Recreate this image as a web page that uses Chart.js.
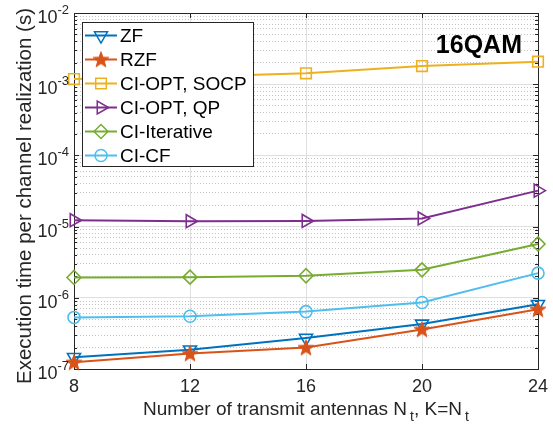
<!DOCTYPE html>
<html>
<head>
<meta charset="utf-8">
<script src="https://cdn.jsdelivr.net/npm/chart.js@4.4.0/dist/chart.umd.min.js"></script>
<style>
  html, body { margin: 0; padding: 0; background: #fff; }
</style>
</head>
<body>
<canvas id="myChart" width="553" height="426"></canvas>
<script>
// data (seconds)
const antennas = [8, 12, 16, 20, 24];
const zf = [1.46e-7, 1.86e-7, 2.72e-7, 4.3e-7, 8.1e-7];
const rzf = [1.24e-7, 1.65e-7, 2.0e-7, 3.6e-7, 6.9e-7];
const socp = [1.18e-3, 1.27e-3, 1.42e-3, 1.80e-3, 2.07e-3];
const qp = [1.23e-5, 1.19e-5, 1.2e-5, 1.3e-5, 3.2e-5];
const iterative = [1.93e-6, 1.95e-6, 2.04e-6, 2.47e-6, 5.7e-6];
const cf = [5.3e-7, 5.5e-7, 6.4e-7, 8.6e-7, 2.22e-6];

const xTicks = [8, 12, 16, 20, 24];
const yExps = [-7, -6, -5, -4, -3, -2];

const FONT = "'Liberation Sans', Arial, Helvetica, sans-serif";
const AXIS_COLOR = "#262626";

function makeStar(color) {
  const c = document.createElement("canvas");
  c.width = 18; c.height = 18;
  const g = c.getContext("2d");
  g.beginPath();
  for (let i = 0; i < 10; i++) {
    const r = i % 2 ? 3.4 : 8.3;
    const a = -Math.PI / 2 + i * Math.PI / 5;
    const px = 9 + r * Math.cos(a), py = 9.6 + r * Math.sin(a);
    if (i === 0) g.moveTo(px, py); else g.lineTo(px, py);
  }
  g.closePath();
  g.fillStyle = color;
  g.fill();
  g.lineWidth = 1;
  g.strokeStyle = color;
  g.stroke();
  return c;
}

const series = [
  { label: "ZF", data: zf, color: "#0072BD", style: "triangle", rot: 180, r: 7.5 },
  { label: "RZF", data: rzf, color: "#D95319", style: makeStar("#D95319"), rot: 0, r: 8 },
  { label: "CI-OPT, SOCP", data: socp, color: "#EDB120", style: "rect", rot: 0, r: 7.5 },
  { label: "CI-OPT, QP", data: qp, color: "#7E2F8E", style: "triangle", rot: 90, r: 7.5 },
  { label: "CI-Iterative", data: iterative, color: "#77AC30", style: "rectRot", rot: 0, r: 7 },
  { label: "CI-CF", data: cf, color: "#4DBEEE", style: "circle", rot: 0, r: 6 }
];

function isMajor(v) {
  const l = Math.log10(v);
  return Math.abs(l - Math.round(l)) < 1e-6;
}

// legend marker, same shape as the points but open
function legendMarker(ctx, s, x, y) {
  ctx.save();
  ctx.strokeStyle = s.color;
  ctx.fillStyle = "rgba(0,0,0,0)";
  ctx.lineWidth = 1.5;
  if (typeof s.style !== "string") {
    ctx.drawImage(s.style, x - s.style.width / 2, y - s.style.height / 2);
  } else {
    Chart.helpers.drawPoint(ctx, {
      pointStyle: s.style, rotation: s.rot, radius: s.r, borderWidth: 1.5
    }, x, y);
  }
  ctx.restore();
}

const framePlugin = {
  id: "frame",
  beforeDatasetsDraw(chart) {
    const { ctx, chartArea: a, scales } = chart;
    const ys = scales.y, xs = scales.x;
    ctx.save();
    ctx.strokeStyle = AXIS_COLOR;
    ctx.lineWidth = 1;
    ctx.beginPath();
    // inward ticks on y (left and right)
    ys.ticks.forEach(t => {
      const py = Math.round(ys.getPixelForValue(t.value)) + 0.5;
      const len = isMajor(t.value) ? 5 : 3;
      ctx.moveTo(a.left, py); ctx.lineTo(a.left + len, py);
      ctx.moveTo(a.right, py); ctx.lineTo(a.right - len, py);
    });
    // inward ticks on x (bottom and top)
    xTicks.forEach(v => {
      const px = Math.round(xs.getPixelForValue(v)) + 0.5;
      ctx.moveTo(px, a.bottom); ctx.lineTo(px, a.bottom - 5);
      ctx.moveTo(px, a.top); ctx.lineTo(px, a.top + 5);
    });
    ctx.stroke();
    ctx.strokeRect(Math.round(a.left) + 0.5, Math.round(a.top) + 0.5,
      Math.round(a.right - a.left), Math.round(a.bottom - a.top));
    ctx.restore();
  },
  afterDraw(chart) {
    const { ctx, chartArea: a, scales } = chart;
    const ys = scales.y, xs = scales.x;
    ctx.save();
    ctx.fillStyle = AXIS_COLOR;

    // y tick labels 10^n
    yExps.forEach(e => {
      const py = ys.getPixelForValue(Math.pow(10, e));
      const sup = "-" + Math.abs(e);
      ctx.font = "13px " + FONT;
      const sw = ctx.measureText(sup).width;
      const right = a.left - 5;
      ctx.textAlign = "left";
      ctx.textBaseline = "alphabetic";
      ctx.fillText(sup, right - sw, py + 1);
      ctx.font = "18px " + FONT;
      ctx.textAlign = "right";
      ctx.fillText("10", right - sw, py + 10);
    });

    // x tick labels
    ctx.font = "18px " + FONT;
    ctx.textAlign = "center";
    ctx.textBaseline = "alphabetic";
    xTicks.forEach(v => {
      ctx.fillText(String(v), xs.getPixelForValue(v), a.bottom + 23);
    });

    // x title with subscripts
    const parts = [
      ["Number of transmit antennas N", false],
      ["t", true],
      [", K=N", false],
      ["t", true]
    ];
    const big = "19px " + FONT, small = "14px " + FONT;
    let total = 0;
    parts.forEach(p => { ctx.font = p[1] ? small : big; total += ctx.measureText(p[0]).width + (p[1] ? 3 : 0); });
    let cx = (a.left + a.right) / 2 - total / 2;
    const base = 415;
    ctx.textAlign = "left";
    parts.forEach(p => {
      ctx.font = p[1] ? small : big;
      if (p[1]) cx += 3;
      ctx.fillText(p[0], cx, p[1] ? base + 6 : base);
      cx += ctx.measureText(p[0]).width;
    });

    // y title
    ctx.save();
    ctx.translate(31, (a.top + a.bottom) / 2 + 5);
    ctx.rotate(-Math.PI / 2);
    ctx.font = "20.5px " + FONT;
    ctx.textAlign = "center";
    ctx.fillText("Execution time per channel realization (s)", 0, 0);
    ctx.restore();

    // 16QAM tag
    ctx.font = "bold 25px " + FONT;
    ctx.textAlign = "right";
    ctx.fillStyle = "#000";
    ctx.fillText("16QAM", 522, 53);

    // legend box
    const lx = 82.5, ly = 22.5, lw = 171, lh = 144;
    ctx.fillStyle = "#fff";
    ctx.fillRect(lx, ly, lw, lh);
    ctx.strokeStyle = AXIS_COLOR;
    ctx.lineWidth = 1;
    ctx.strokeRect(lx, ly, lw, lh);
    ctx.font = "19px " + FONT;
    ctx.textAlign = "left";
    ctx.textBaseline = "middle";
    series.forEach((s, i) => {
      const yy = 35.5 + i * 24;
      ctx.strokeStyle = s.color;
      ctx.lineWidth = 2;
      ctx.beginPath();
      ctx.moveTo(85, yy); ctx.lineTo(117, yy);
      ctx.stroke();
      legendMarker(ctx, s, 101, yy);
      ctx.fillStyle = "#000";
      ctx.fillText(s.label, 120, yy + 1);
    });
    ctx.restore();
  }
};

const datasets = series.map((s, i) => ({
  label: s.label,
  data: antennas.map((x, k) => ({ x: x, y: s.data[k] })),
  borderColor: s.color,
  backgroundColor: "transparent",
  borderWidth: 2,
  pointStyle: s.style,
  pointRotation: s.rot,
  pointRadius: s.r,
  pointHoverRadius: s.r,
  pointBorderWidth: 1.6,
  pointBorderColor: s.color,
  pointBackgroundColor: "transparent",
  tension: 0,
  clip: false,
  order: series.length - i
}));

new Chart(document.getElementById("myChart"), {
  type: "line",
  data: { datasets: datasets },
  options: {
    responsive: false,
    animation: false,
    layout: { padding: { left: 74, right: 15, top: 13, bottom: 57 } },
    plugins: { legend: { display: false }, tooltip: { enabled: false } },
    scales: {
      x: {
        type: "linear",
        min: 8,
        max: 24,
        afterBuildTicks: s => { s.ticks = xTicks.map(v => ({ value: v })); },
        ticks: { display: false },
        grid: { color: "#dfdfdf", lineWidth: 1, drawTicks: false },
        border: { display: false }
      },
      y: {
        type: "logarithmic",
        min: 1e-7,
        max: 1e-2,
        afterBuildTicks: s => {
          const t = [];
          yExps.forEach(e => {
            for (let m = 1; m <= 9; m++) {
              const v = m * Math.pow(10, e);
              if (v <= 1.0001e-2) t.push({ value: v });
            }
          });
          s.ticks = t;
        },
        ticks: { display: false },
        grid: {
          drawTicks: false,
          lineWidth: 1,
          color: c => (c.tick && isMajor(c.tick.value)) ? "#dfdfdf" : "#c4c4c4"
        },
        border: {
          display: false,
          dash: c => (c.tick && !isMajor(c.tick.value)) ? [1, 2] : []
        }
      }
    }
  },
  plugins: [framePlugin]
});
</script>
</body>
</html>
